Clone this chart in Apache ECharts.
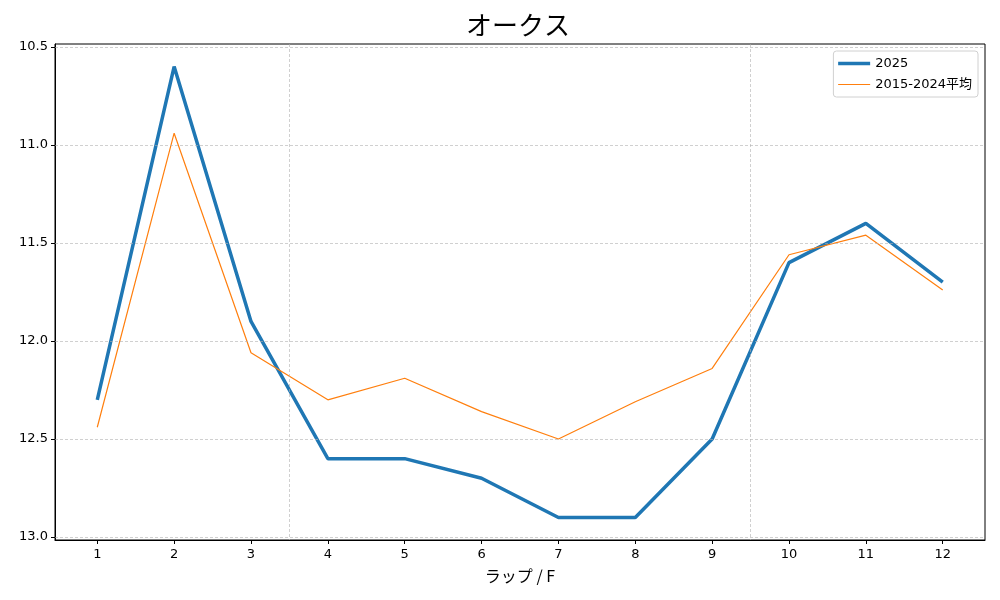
<!DOCTYPE html>
<html>
<head>
<meta charset="UTF-8">
<title>オークス</title>
<script type="text/javascript" src="https://cdn.jsdelivr.net/npm/echarts@6/dist/echarts.min.js"></script>
</head>
<body style="margin:0;">
<div id="main" style="width:1000px;height:600px;"></div>

<script type="text/javascript">
// ラップ番号
var laps = [1, 2, 3, 4, 5, 6, 7, 8, 9, 10, 11, 12];
// 2025年のラップ
var lap2025 = [12.3, 10.6, 11.9, 12.6, 12.6, 12.7, 12.9, 12.9, 12.5, 11.6, 11.4, 11.7];
// 2015-2024平均
var lapAvg = [12.44, 10.94, 12.06, 12.30, 12.19, 12.36, 12.50, 12.31, 12.14, 11.56, 11.46, 11.74];
// 目盛り
var yTicks = [10.5, 11.0, 11.5, 12.0, 12.5, 13.0];
var xGuides = [3.5, 9.5];

var font = '"DejaVu Sans", "Noto Sans CJK JP", sans-serif';
var gridLine = { color: '#b0b0b0', type: [3, 2], width: 0.6 };

var mychart = echarts.init(document.getElementById('main'));

function pairs(vals) {
    var out = [];
    for (var i = 0; i < laps.length; i++) {
        out.push([laps[i], vals[i]]);
    }
    return out;
}

var option = {
    animation: false,
    textStyle: { fontFamily: font },
    title: {
        text: 'オークス',
        left: 461,
        top: 7,
        textStyle: { fontFamily: '"Noto Sans CJK JP", sans-serif', fontSize: 26, fontWeight: 'normal', color: '#000' }
    },
    legend: {
        data: [
            { name: '2025', itemStyle: { opacity: 0 }, lineStyle: { width: 3.5 } },
            { name: '2015-2024平均', itemStyle: { opacity: 0 }, lineStyle: { width: 1.2 } }
        ],
        orient: 'vertical',
        right: 22,
        top: 51,
        itemWidth: 32,
        itemHeight: 10,
        itemGap: 8,
        padding: [6, 6, 6, 3],
        borderColor: '#d0d0d0',
        borderWidth: 1,
        borderRadius: 3,
        textStyle: { fontFamily: font, fontSize: 13, color: '#000' }
    },
    grid: { left: 55, right: 15, top: 44, bottom: 60, show: true, borderColor: '#000', borderWidth: 1 },
    xAxis: {
        type: 'value',
        min: 0.45,
        max: 12.55,
        name: 'ラップ / F',
        nameLocation: 'middle',
        nameGap: 28,
        nameTextStyle: { fontFamily: '"Noto Sans CJK JP", sans-serif', fontSize: 16, color: '#000' },
        axisLine: { show: true, lineStyle: { color: '#000' } },
        axisTick: { show: true, customValues: laps, length: 4, lineStyle: { color: '#000' } },
        axisLabel: { customValues: laps, fontSize: 13, color: '#000', margin: 8 },
        splitLine: { show: false }
    },
    yAxis: {
        type: 'value',
        inverse: true,
        min: 10.485,
        max: 13.015,
        axisLine: { show: true, lineStyle: { color: '#000' } },
        axisTick: { show: true, customValues: yTicks, length: 4, lineStyle: { color: '#000' } },
        axisLabel: {
            customValues: yTicks,
            fontSize: 13,
            color: '#000',
            margin: 7,
            formatter: function (v) { return v.toFixed(1); }
        },
        splitLine: { show: false }
    },
    series: [
        {
            name: '2025',
            type: 'line',
            data: pairs(lap2025),
            showSymbol: false,
            symbol: 'none',
            color: '#1f77b4',
            lineStyle: { width: 3.5, color: '#1f77b4' },
            z: 3
        },
        {
            name: '2015-2024平均',
            type: 'line',
            data: pairs(lapAvg),
            showSymbol: false,
            symbol: 'none',
            color: '#ff7f0e',
            lineStyle: { width: 1.2, color: '#ff7f0e' },
            z: 4,
            markLine: {
                silent: true,
                symbol: 'none',
                label: { show: false },
                lineStyle: gridLine,
                data: xGuides.map(function (x) { return { xAxis: x }; })
                    .concat(yTicks.map(function (y) { return { yAxis: y }; }))
            }
        }
    ]
};

mychart.setOption(option);
</script>
</body>
</html>
